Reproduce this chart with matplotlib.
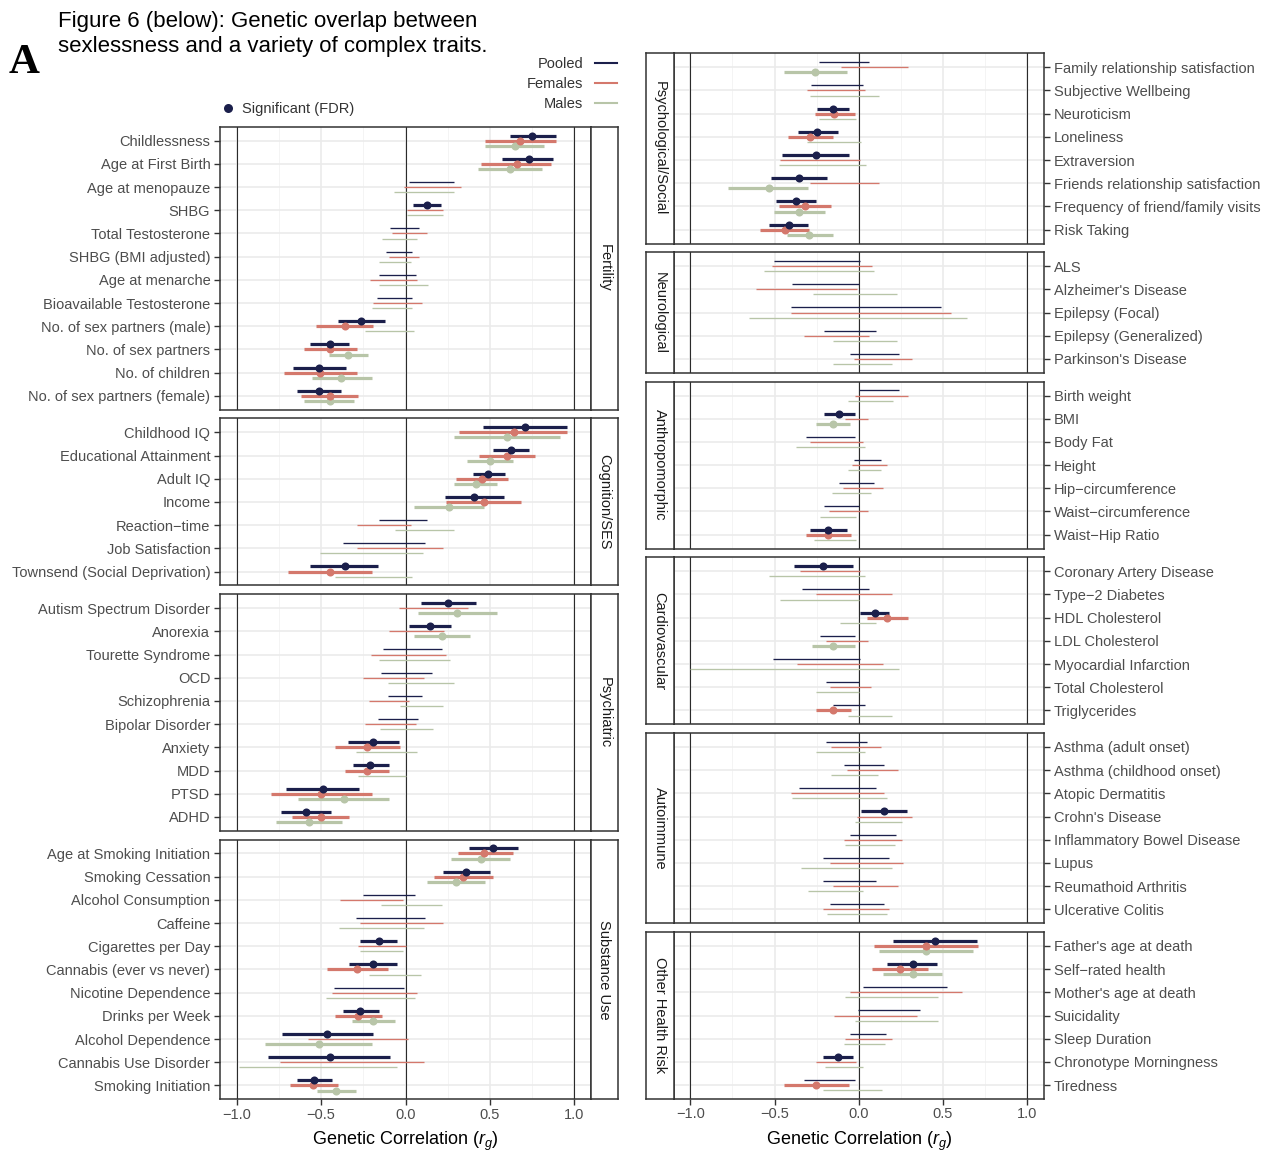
import matplotlib
matplotlib.use('Agg')
import matplotlib.pyplot as plt
from matplotlib.lines import Line2D

plt.rcParams['font.family'] = ['Liberation Sans', 'DejaVu Sans']
plt.rcParams['mathtext.fontset'] = 'custom'
plt.rcParams['mathtext.rm'] = 'Liberation Sans'
plt.rcParams['mathtext.it'] = 'Liberation Sans:italic'

# colours of the three samples
POOLED = '#1b1f4b'
FEMALES = '#d4786c'
MALES = '#b8c5a8'

# each entry: (point estimate if FDR significant else None, ci low, ci high)

# ---- left column ----
fert_traits = ['Childlessness', 'Age at First Birth', 'Age at menopauze', 'SHBG',
               'Total Testosterone', 'SHBG (BMI adjusted)', 'Age at menarche',
               'Bioavailable Testosterone', 'No. of sex partners (male)',
               'No. of sex partners', 'No. of children', 'No. of sex partners (female)']
fert_pooled = [(0.75, 0.62, 0.89), (0.73, 0.575, 0.875), (None, 0.02, 0.29),
               (0.126, 0.046, 0.21), (None, -0.09, 0.08), (None, -0.115, 0.04),
               (None, -0.16, 0.06), (None, -0.17, 0.04), (-0.265, -0.40, -0.12),
               (-0.445, -0.565, -0.335), (-0.51, -0.665, -0.355), (-0.515, -0.645, -0.385)]
fert_females = [(0.68, 0.47, 0.89), (0.66, 0.45, 0.86), (None, -0.01, 0.33),
                (None, 0.01, 0.22), (None, -0.08, 0.13), (None, -0.10, 0.08),
                (None, -0.21, 0.07), (None, -0.19, 0.10), (-0.36, -0.53, -0.19),
                (-0.445, -0.60, -0.285), (-0.505, -0.72, -0.29), (-0.45, -0.62, -0.28)]
fert_males = [(0.65, 0.47, 0.82), (0.62, 0.43, 0.81), (None, -0.07, 0.29),
              (None, 0.01, 0.22), (None, -0.14, 0.07), (None, -0.155, 0.03),
              (None, -0.155, 0.135), (None, -0.20, 0.04), (None, -0.24, 0.05),
              (-0.34, -0.455, -0.22), (-0.38, -0.555, -0.20), (-0.45, -0.60, -0.305)]

cog_traits = ['Childhood IQ', 'Educational Attainment', 'Adult IQ', 'Income',
              'Reaction\u2212time', 'Job Satisfaction', 'Townsend (Social Deprivation)']
cog_pooled = [(0.71, 0.46, 0.96), (0.625, 0.52, 0.73), (0.49, 0.40, 0.59),
              (0.405, 0.235, 0.585), (None, -0.155, 0.13), (None, -0.37, 0.115),
              (-0.36, -0.565, -0.165)]
cog_females = [(0.645, 0.32, 0.96), (0.60, 0.435, 0.77), (0.455, 0.30, 0.605),
               (0.465, 0.24, 0.685), (None, -0.29, 0.035), (None, -0.29, 0.225),
               (-0.445, -0.695, -0.20)]
cog_males = [(0.60, 0.29, 0.915), (0.50, 0.365, 0.635), (0.42, 0.29, 0.54),
             (0.255, 0.05, 0.465), (None, -0.065, 0.285), (None, -0.505, 0.105),
             (None, -0.42, 0.04)]

psy_traits = ['Autism Spectrum Disorder', 'Anorexia', 'Tourette Syndrome', 'OCD',
              'Schizophrenia', 'Bipolar Disorder', 'Anxiety', 'MDD', 'PTSD', 'ADHD']
psy_pooled = [(0.25, 0.09, 0.42), (0.145, 0.02, 0.27), (None, -0.135, 0.215),
              (None, -0.145, 0.155), (None, -0.105, 0.10), (None, -0.165, 0.075),
              (-0.19, -0.34, -0.04), (-0.21, -0.31, -0.10), (-0.49, -0.71, -0.275),
              (-0.59, -0.74, -0.44)]
psy_females = [(None, -0.04, 0.37), (None, -0.10, 0.23), (None, -0.205, 0.24),
               (None, -0.25, 0.11), (None, -0.215, 0.02), (None, -0.24, 0.06),
               (-0.23, -0.42, -0.03), (-0.23, -0.36, -0.10), (-0.50, -0.795, -0.20),
               (-0.50, -0.675, -0.335)]
psy_males = [(0.305, 0.075, 0.54), (0.215, 0.05, 0.385), (None, -0.155, 0.265),
             (None, -0.105, 0.29), (None, -0.03, 0.225), (None, -0.15, 0.165),
             (None, -0.295, 0.07), (None, -0.28, 0.0), (-0.365, -0.64, -0.095),
             (-0.57, -0.765, -0.375)]

sub_traits = ['Age at Smoking Initiation', 'Smoking Cessation', 'Alcohol Consumption',
              'Caffeine', 'Cigarettes per Day', 'Cannabis (ever vs never)',
              'Nicotine Dependence', 'Drinks per Week', 'Alcohol Dependence',
              'Cannabis Use Disorder', 'Smoking Initiation']
sub_pooled = [(0.52, 0.375, 0.665), (0.36, 0.22, 0.50), (None, -0.25, 0.055),
              (None, -0.295, 0.115), (-0.16, -0.27, -0.05), (-0.195, -0.335, -0.05),
              (None, -0.425, -0.01), (-0.27, -0.37, -0.16), (-0.465, -0.735, -0.19),
              (-0.45, -0.815, -0.09), (-0.545, -0.645, -0.435)]
sub_females = [(0.465, 0.31, 0.635), (0.34, 0.17, 0.52), (None, -0.39, -0.015),
               (None, -0.27, 0.225), (None, -0.28, 0.0), (-0.29, -0.465, -0.105),
               (None, -0.435, 0.07), (-0.28, -0.42, -0.14), (None, -0.58, 0.015),
               (None, -0.745, 0.11), (-0.55, -0.685, -0.40)]
sub_males = [(0.445, 0.27, 0.62), (0.30, 0.125, 0.47), (None, -0.145, 0.215),
             (None, -0.395, 0.11), (None, -0.27, -0.015), (None, -0.215, 0.09),
             (None, -0.47, 0.055), (-0.19, -0.32, -0.06), (-0.515, -0.835, -0.20),
             (None, -0.985, -0.05), (-0.41, -0.525, -0.295)]

# ---- right column ----
soc_traits = ['Family relationship satisfaction', 'Subjective Wellbeing', 'Neuroticism',
              'Loneliness', 'Extraversion', 'Friends relationship satisfaction',
              'Frequency of friend/family visits', 'Risk Taking']
soc_pooled = [(None, -0.235, 0.06), (None, -0.285, 0.025), (-0.15, -0.245, -0.06),
              (-0.25, -0.36, -0.125), (-0.255, -0.455, -0.06), (-0.355, -0.52, -0.19),
              (-0.375, -0.49, -0.255), (-0.415, -0.53, -0.30)]
soc_females = [(None, -0.105, 0.295), (None, -0.31, 0.035), (-0.145, -0.26, -0.025),
               (-0.29, -0.42, -0.15), (None, -0.465, 0.005), (None, -0.29, 0.12),
               (-0.32, -0.475, -0.165), (-0.435, -0.585, -0.295)]
soc_males = [(-0.26, -0.445, -0.07), (None, -0.29, 0.12), (None, -0.235, -0.015),
             (None, -0.31, 0.015), (None, -0.475, 0.045), (-0.53, -0.775, -0.30),
             (-0.355, -0.505, -0.20), (-0.295, -0.425, -0.15)]

neu_traits = ['ALS', "Alzheimer's Disease", 'Epilepsy (Focal)', 'Epilepsy (Generalized)',
              "Parkinson's Disease"]
neu_pooled = [(None, -0.505, 0.005), (None, -0.395, 0.0), (None, -0.405, 0.49),
              (None, -0.205, 0.10), (None, -0.05, 0.24)]
neu_females = [(None, -0.515, 0.08), (None, -0.61, -0.01), (None, -0.405, 0.55),
               (None, -0.325, 0.06), (None, -0.03, 0.315)]
neu_males = [(None, -0.565, 0.09), (None, -0.27, 0.23), (None, -0.65, 0.64),
             (None, -0.15, 0.23), (None, -0.155, 0.20)]

ant_traits = ['Birth weight', 'BMI', 'Body Fat', 'Height', 'Hip\u2212circumference',
              'Waist\u2212circumference', 'Waist\u2212Hip Ratio']
ant_pooled = [(None, 0.0, 0.24), (-0.115, -0.205, -0.025), (None, -0.315, -0.025),
              (None, -0.03, 0.135), (None, -0.115, 0.09), (None, -0.205, 0.0),
              (-0.18, -0.29, -0.07)]
ant_females = [(None, -0.02, 0.29), (None, -0.08, 0.055), (None, -0.29, 0.025),
               (None, -0.04, 0.165), (None, -0.095, 0.145), (None, -0.175, 0.055),
               (-0.18, -0.315, -0.045)]
ant_males = [(None, -0.065, 0.205), (-0.155, -0.255, -0.05), (None, -0.375, 0.04),
             (None, -0.065, 0.13), (None, -0.16, 0.07), (None, -0.23, -0.015),
             (None, -0.265, -0.015)]

car_traits = ['Coronary Artery Disease', 'Type\u22122 Diabetes', 'HDL Cholesterol',
              'LDL Cholesterol', 'Myocardial Infarction', 'Total Cholesterol', 'Triglycerides']
car_pooled = [(-0.21, -0.385, -0.035), (None, -0.335, 0.06), (0.095, 0.01, 0.18),
              (None, -0.23, -0.025), (None, -0.51, 0.005), (None, -0.195, 0.0),
              (None, -0.15, 0.04)]
car_females = [(None, -0.35, 0.01), (None, -0.255, 0.195), (0.165, 0.05, 0.29),
               (None, -0.195, 0.055), (None, -0.365, 0.145), (None, -0.17, 0.07),
               (-0.15, -0.255, -0.045)]
car_males = [(None, -0.53, 0.04), (None, -0.465, 0.0), (None, -0.11, 0.10),
             (-0.15, -0.28, -0.025), (None, -1.0, 0.24), (None, -0.255, 0.0),
             (None, -0.065, 0.195)]

aut_traits = ['Asthma (adult onset)', 'Asthma (childhood onset)', 'Atopic Dermatitis',
              "Crohn's Disease", 'Inflammatory Bowel Disease', 'Lupus',
              'Reumathoid Arthritis', 'Ulcerative Colitis']
aut_pooled = [(None, -0.195, 0.05), (None, -0.085, 0.15), (None, -0.355, 0.10),
              (0.15, 0.015, 0.285), (None, -0.05, 0.22), (None, -0.21, 0.18),
              (None, -0.21, 0.10), (None, -0.17, 0.15)]
aut_females = [(None, -0.165, 0.135), (None, -0.07, 0.235), (None, -0.405, 0.15),
               (None, -0.01, 0.315), (None, -0.085, 0.255), (None, -0.17, 0.265),
               (None, -0.15, 0.235), (None, -0.21, 0.18)]
aut_males = [(None, -0.255, 0.035), (None, -0.165, 0.115), (None, -0.395, 0.165),
             (None, -0.02, 0.255), (None, -0.08, 0.215), (None, -0.34, 0.195),
             (None, -0.30, 0.025), (None, -0.19, 0.165)]

oth_traits = ["Father's age at death", 'Self\u2212rated health', "Mother's age at death",
              'Suicidality', 'Sleep Duration', 'Chronotype Morningness', 'Tiredness']
oth_pooled = [(0.455, 0.205, 0.70), (0.32, 0.17, 0.465), (None, 0.025, 0.525),
              (None, -0.005, 0.365), (None, -0.05, 0.16), (-0.125, -0.215, -0.035),
              (None, -0.325, -0.025)]
oth_females = [(0.40, 0.09, 0.71), (0.245, 0.08, 0.41), (None, -0.05, 0.615),
               (None, -0.145, 0.345), (None, -0.08, 0.195), (None, -0.255, -0.015),
               (-0.255, -0.445, -0.06)]
oth_males = [(0.40, 0.12, 0.68), (0.32, 0.145, 0.495), (None, -0.08, 0.47),
             (None, -0.02, 0.47), (None, -0.085, 0.155), (None, -0.20, 0.025),
             (None, -0.21, 0.14)]

left_panels = [('Fertility', fert_traits, fert_pooled, fert_females, fert_males),
               ('Cognition/SES', cog_traits, cog_pooled, cog_females, cog_males),
               ('Psychiatric', psy_traits, psy_pooled, psy_females, psy_males),
               ('Substance Use', sub_traits, sub_pooled, sub_females, sub_males)]
right_panels = [('Psychological/Social', soc_traits, soc_pooled, soc_females, soc_males),
                ('Neurological', neu_traits, neu_pooled, neu_females, neu_males),
                ('Anthropomorphic', ant_traits, ant_pooled, ant_females, ant_males),
                ('Cardiovascular', car_traits, car_pooled, car_females, car_males),
                ('Autoimmune', aut_traits, aut_pooled, aut_females, aut_males),
                ('Other Health Risk', oth_traits, oth_pooled, oth_females, oth_males)]

# layout in pixels
W, H = 1280, 1160
ROW = 23.2
GAP = 8.7
DODGE = 0.22
EDGE = '#333333'

fig = plt.figure(figsize=(W / 100, H / 100), dpi=100)


def rect(x0, y0, x1, y1):
    return [x0 / W, 1 - y1 / H, (x1 - x0) / W, (y1 - y0) / H]


def draw_panel(ax, traits, pooled, females, males):
    n = len(traits)
    ax.set_xlim(-1.1, 1.1)
    ax.set_ylim(n - 0.4, -0.6)
    ax.set_yticks(range(n))
    ax.set_yticklabels(traits)
    ax.set_xticks([-1, -0.5, 0, 0.5, 1])
    ax.set_xticks([-0.75, -0.25, 0.25, 0.75], minor=True)
    ax.set_xticklabels(['\u22121.0', '\u22120.5', '0.0', '0.5', '1.0'])
    ax.grid(True, which='major', color='#ebebeb', lw=1.2)
    ax.grid(True, which='minor', axis='x', color='#f3f3f3', lw=0.6)
    ax.set_axisbelow(True)
    for v in (-1, 0, 1):
        ax.axvline(v, color='#2b2b2b', lw=0.8, zorder=1)
    for data, col, off in ((males, MALES, DODGE), (females, FEMALES, 0.0),
                           (pooled, POOLED, -DODGE)):
        for i, (est, lo, hi) in enumerate(data):
            y = i + off
            if est is None:
                ax.plot([lo, hi], [y, y], color=col, lw=0.95, solid_capstyle='butt', zorder=2)
            else:
                ax.plot([lo, hi], [y, y], color=col, lw=2.3, solid_capstyle='butt', zorder=3)
                ax.plot(est, y, 'o', color=col, ms=5.8, mew=0, zorder=4)
    for s in ax.spines.values():
        s.set_color(EDGE)
        s.set_linewidth(1.1)
    ax.tick_params(axis='y', length=4, width=1, color=EDGE, labelsize=10.5,
                   labelcolor='#4d4d4d', pad=3)
    ax.tick_params(axis='x', which='minor', length=0)
    ax.tick_params(axis='x', which='major', length=4, width=1, color=EDGE,
                   labelsize=10.5, labelcolor='#4d4d4d', pad=2)


def add_column(panels, top, px0, px1, sx0, sx1, right_labels):
    y = top
    for k, (name, traits, pooled, females, males) in enumerate(panels):
        h = (len(traits) + 0.2) * ROW
        ax = fig.add_axes(rect(px0, y, px1, y + h))
        draw_panel(ax, traits, pooled, females, males)
        if right_labels:
            ax.yaxis.tick_right()
        if k < len(panels) - 1:
            ax.tick_params(axis='x', which='both', bottom=False, labelbottom=False)
        else:
            ax.set_xlabel('Genetic Correlation ($r_g$)', fontsize=13, labelpad=6)
        sax = fig.add_axes(rect(sx0, y, sx1, y + h))
        sax.set_xticks([])
        sax.set_yticks([])
        for s in sax.spines.values():
            s.set_color(EDGE)
            s.set_linewidth(1.1)
        sax.text(0.5, 0.5, name, rotation=-90, ha='center', va='center',
                 fontsize=10.5, color='#1a1a1a', transform=sax.transAxes)
        y += h + GAP


add_column(left_panels, 126.7, 220, 591, 591, 618, False)
add_column(right_panels, 53.3, 673.5, 1044, 646, 673.5, True)

# titles
fig.text(58 / W, 1 - 22 / H, 'Figure 6 (below): Genetic overlap between',
         fontsize=16, va='center')
fig.text(58 / W, 1 - 46.5 / H, 'sexlessness and a variety of complex traits.',
         fontsize=16, va='center')
fig.text(9 / W, 1 - 63 / H, 'A', family='Liberation Serif', fontweight='bold',
         fontsize=31, va='center')

# legends
handles = [Line2D([], [], color=POOLED, lw=1.5),
           Line2D([], [], color=FEMALES, lw=1.5),
           Line2D([], [], color=MALES, lw=1.5)]
fig.legend(handles, ['Pooled', 'Females', 'Males'], loc='upper right',
           bbox_to_anchor=(617 / W, 1 - 57 / H), frameon=False, markerfirst=False,
           fontsize=10.5, labelspacing=0.42, handlelength=1.5, handletextpad=0.8,
           borderpad=0, borderaxespad=0, labelcolor='#333333')
sig = Line2D([], [], color=POOLED, marker='o', ls='none', ms=6.5, mew=0)
fig.legend([sig], ['Significant (FDR)'], loc='center left',
           bbox_to_anchor=(222 / W, 1 - 108.7 / H), frameon=False, fontsize=10.5,
           handlelength=0.8, handletextpad=0.6, borderpad=0, borderaxespad=0,
           labelcolor='#333333')

fig.savefig('out.png', dpi=100)
